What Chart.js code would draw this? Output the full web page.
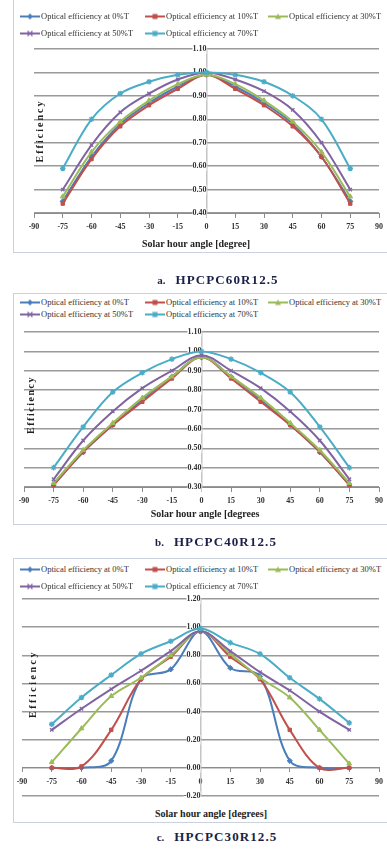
<!DOCTYPE html>
<html><head><meta charset="utf-8">
<script src="https://cdn.jsdelivr.net/npm/chart.js@4.4.0/dist/chart.umd.min.js"></script>
<style>
html,body{margin:0;padding:0;background:#fff;overflow:hidden;width:387px;height:857px;}
#page{position:relative;width:387px;height:857px;overflow:hidden;font-family:"Liberation Serif","Times New Roman",serif;}
.box{position:absolute;left:13px;width:420px;border:1px solid #c9d2de;box-sizing:border-box;}
canvas{position:absolute;left:0;}
.leg{position:absolute;font-size:8.5px;color:#333;white-space:nowrap;line-height:9px;transform:translateY(-50%);display:flex;align-items:center;}
.leg canvas{position:static;margin-right:1px;}
.ytitle{position:absolute;font-weight:bold;font-size:10px;color:#222;white-space:nowrap;transform:translate(-50%,-50%) rotate(-90deg);}
.xtitle{position:absolute;font-weight:bold;font-size:10px;color:#222;white-space:nowrap;transform:translate(-50%,-50%);}
.cap{position:absolute;white-space:nowrap;transform:translate(-50%,-50%);color:#1b1f45;}
.cap b{font-size:13px;letter-spacing:1.1px;}
.cap i{font-style:normal;font-size:11px;font-weight:bold;margin-right:10px;}
</style></head>
<body><div id="page">
<div class="box" style="top:-1px;height:254px"></div>
<div class="box" style="top:293px;height:232px"></div>
<div class="box" style="top:558px;height:265px"></div>
<canvas id="ca" width="388" height="240" style="top:0px"></canvas>
<canvas id="cb" width="388" height="200" style="top:320px"></canvas>
<canvas id="cc" width="388" height="215" style="top:590px"></canvas>
<div id="legends"></div>
<div class="ytitle" style="left:39px;top:131px;letter-spacing:2px">Efficiency</div>
<div class="ytitle" style="left:30px;top:405px;letter-spacing:1.5px">Efficiency</div>
<div class="ytitle" style="left:32px;top:684px;letter-spacing:2.5px">Efficiency</div>
<div class="xtitle" style="left:196px;top:243px">Solar hour angle [degree]</div>
<div class="xtitle" style="left:205px;top:513px">Solar hour angle [degrees</div>
<div class="xtitle" style="left:211px;top:813px">Solar hour angle [degrees]</div>
<div class="cap" style="left:218px;top:279px"><i>a.</i><b>HPCPC60R12.5</b></div>
<div class="cap" style="left:216px;top:541px"><i>b.</i><b>HPCPC40R12.5</b></div>
<div class="cap" style="left:217px;top:836px"><i>c.</i><b>HPCPC30R12.5</b></div>
</div>
<script>
// ---- shared categories / labels ----
const angles = [-75, -60, -45, -30, -15, 0, 15, 30, 45, 60, 75];
const seriesNames = ["Optical efficiency at 0%T", "Optical efficiency at 10%T", "Optical efficiency at 30%T", "Optical efficiency at 50%T", "Optical efficiency at 70%T"];

// ---- chart a: HPCPC60R12.5 ----
const a_eff0  = [0.45, 0.64, 0.78, 0.87, 0.94, 0.99, 0.94, 0.87, 0.78, 0.64, 0.45];
const a_eff10 = [0.44, 0.63, 0.77, 0.86, 0.93, 0.99, 0.93, 0.86, 0.77, 0.64, 0.44];
const a_eff30 = [0.47, 0.66, 0.79, 0.88, 0.95, 0.99, 0.95, 0.88, 0.79, 0.66, 0.47];
const a_eff50 = [0.50, 0.69, 0.83, 0.91, 0.97, 1.00, 0.97, 0.92, 0.84, 0.70, 0.50];
const a_eff70 = [0.59, 0.80, 0.91, 0.96, 0.99, 1.00, 0.99, 0.96, 0.90, 0.80, 0.59];

// ---- chart b: HPCPC40R12.5 ----
const b_eff0  = [0.31, 0.48, 0.62, 0.75, 0.87, 0.97, 0.87, 0.75, 0.62, 0.48, 0.31];
const b_eff10 = [0.31, 0.48, 0.62, 0.74, 0.86, 0.97, 0.86, 0.74, 0.62, 0.48, 0.31];
const b_eff30 = [0.32, 0.49, 0.63, 0.76, 0.87, 0.97, 0.87, 0.76, 0.63, 0.49, 0.32];
const b_eff50 = [0.34, 0.54, 0.69, 0.81, 0.90, 0.98, 0.90, 0.81, 0.69, 0.54, 0.34];
const b_eff70 = [0.40, 0.61, 0.79, 0.89, 0.96, 1.00, 0.96, 0.89, 0.79, 0.61, 0.40];

// ---- chart c: HPCPC30R12.5 ----
const c_eff0  = [0.00, 0.00, 0.05, 0.63, 0.70, 0.97, 0.71, 0.65, 0.05, 0.00, 0.00];
const c_eff10 = [0.00, 0.01, 0.27, 0.63, 0.79, 0.97, 0.79, 0.63, 0.27, 0.00, 0.00];
const c_eff30 = [0.04, 0.28, 0.51, 0.64, 0.80, 0.97, 0.81, 0.64, 0.50, 0.27, 0.03];
const c_eff50 = [0.27, 0.42, 0.56, 0.69, 0.83, 0.97, 0.83, 0.68, 0.55, 0.40, 0.27];
const c_eff70 = [0.31, 0.50, 0.66, 0.81, 0.90, 0.99, 0.89, 0.81, 0.64, 0.49, 0.32];

// ---- axis ticks ----
const xMin = -90, xMax = 90, xStep = 15;
const a_yMin = 0.40, a_yMax = 1.10, a_yStep = 0.10;
const b_yMin = 0.30, b_yMax = 1.10, b_yStep = 0.10;
const c_yMin = -0.20, c_yMax = 1.20, c_yStep = 0.20;

// ---- styles ----
const colors = ['#4a7ebb', '#c0504d', '#9bbb59', '#8064a2', '#4bacc6'];
const markers = ['rectRot', 'rect', 'triangle', 'crossRot', 'star'];
const markerR = [2.6, 2.4, 2.8, 2.4, 2.8];
const tickFont = {family: "'Liberation Serif', serif", size: 8, weight: 'bold'};

function makeChart(id, series, yMin, yMax, yStep, pad) {
  const datasets = series.map((vals, i) => ({
    label: seriesNames[i],
    data: angles.map((a, k) => ({x: a, y: vals[k]})),
    borderColor: colors[i],
    backgroundColor: colors[i],
    pointBorderColor: colors[i],
    pointBackgroundColor: colors[i],
    pointStyle: markers[i],
    pointRadius: markerR[i],
    pointBorderWidth: (i === 3 || i === 4) ? 1.3 : 1,
    borderWidth: 2,
    tension: 0.35,
    order: 4 - i,
    clip: false
  }));
  return new Chart(document.getElementById(id), {
    type: 'line',
    data: {datasets},
    options: {
      responsive: false,
      animation: false,
      devicePixelRatio: 1,
      layout: {padding: pad},
      plugins: {legend: {display: false}, tooltip: {enabled: false}},
      scales: {
        x: {
          type: 'linear',
          min: xMin, max: xMax,
          position: {y: yMin >= 0 ? yMin : 0},
          afterBuildTicks: s => { s.ticks = []; for (let v = xMin; v <= xMax; v += xStep) s.ticks.push({value: v}); },
          ticks: {font: tickFont, color: '#333', padding: 5, maxRotation: 0, autoSkip: false,
                  callback: v => String(v)},
          grid: {display: true, drawOnChartArea: false, drawTicks: true, tickLength: 4, color: '#8c8c8c'},
          border: {display: true, color: '#8c8c8c', width: 1}
        },
        y: {
          type: 'linear',
          min: yMin, max: yMax,
          position: {x: 0},
          afterBuildTicks: s => { s.ticks = []; const n = Math.round((yMax - yMin) / yStep); for (let k = 0; k <= n; k++) s.ticks.push({value: +(yMin + k * yStep).toFixed(2)}); },
          ticks: {font: tickFont, color: '#333', padding: 1, autoSkip: false,
                  showLabelBackdrop: true, backdropColor: '#ffffff', backdropPadding: 0,
                  callback: v => Number(v).toFixed(2)},
          grid: {color: '#9a9a9a', lineWidth: 1.4, tickLength: 3, drawTicks: true},
          border: {display: true, color: '#c4c4c4', width: 1.5}
        }
      }
    }
  });
}

makeChart('ca', [a_eff0, a_eff10, a_eff30, a_eff50, a_eff70], a_yMin, a_yMax, a_yStep, {left: 34, right: 5, top: 49, bottom: 27});
makeChart('cb', [b_eff0, b_eff10, b_eff30, b_eff50, b_eff70], b_yMin, b_yMax, b_yStep, {left: 24, right: 7, top: 12, bottom: 33});
makeChart('cc', [c_eff0, c_eff10, c_eff30, c_eff50, c_eff70], c_yMin, c_yMax, c_yStep, {left: 22, right: 9, top: 9, bottom: 9});

// ---- legends (HTML, icons drawn on tiny canvases) ----
function drawIcon(ctx, i) {
  const c = colors[i];
  ctx.strokeStyle = c; ctx.fillStyle = c; ctx.lineWidth = 2;
  ctx.beginPath(); ctx.moveTo(0, 4); ctx.lineTo(20, 4); ctx.stroke();
  ctx.lineWidth = 1.2;
  const x = 10, y = 4, r = 3;
  ctx.beginPath();
  if (i === 0) { ctx.moveTo(x, y - r); ctx.lineTo(x + r, y); ctx.lineTo(x, y + r); ctx.lineTo(x - r, y); ctx.closePath(); ctx.fill(); }
  else if (i === 1) { ctx.rect(x - 2.5, y - 2.5, 5, 5); ctx.fill(); }
  else if (i === 2) { ctx.moveTo(x, y - r); ctx.lineTo(x + r, y + 2.5); ctx.lineTo(x - r, y + 2.5); ctx.closePath(); ctx.fill(); }
  else if (i === 3) { ctx.moveTo(x - 2.5, y - 2.5); ctx.lineTo(x + 2.5, y + 2.5); ctx.moveTo(x + 2.5, y - 2.5); ctx.lineTo(x - 2.5, y + 2.5); ctx.stroke(); }
  else { ctx.moveTo(x - 2.5, y - 2.5); ctx.lineTo(x + 2.5, y + 2.5); ctx.moveTo(x + 2.5, y - 2.5); ctx.lineTo(x - 2.5, y + 2.5); ctx.moveTo(x, y - 3); ctx.lineTo(x, y + 3); ctx.stroke(); }
}
const legendRows = [[16, 33], [302, 314], [569, 586]];
const legendCols = [20, 145, 268];
const legHost = document.getElementById('legends');
legendRows.forEach(rows => {
  seriesNames.forEach((name, i) => {
    const row = i < 3 ? 0 : 1, col = i < 3 ? i : i - 3;
    const d = document.createElement('div');
    d.className = 'leg';
    d.style.left = legendCols[col] + 'px';
    d.style.top = rows[row] + 'px';
    const cv = document.createElement('canvas');
    cv.width = 20; cv.height = 8;
    drawIcon(cv.getContext('2d'), i);
    d.appendChild(cv);
    const t = document.createElement('span');
    t.textContent = name;
    d.appendChild(t);
    legHost.appendChild(d);
  });
});
</script>
</body></html>
